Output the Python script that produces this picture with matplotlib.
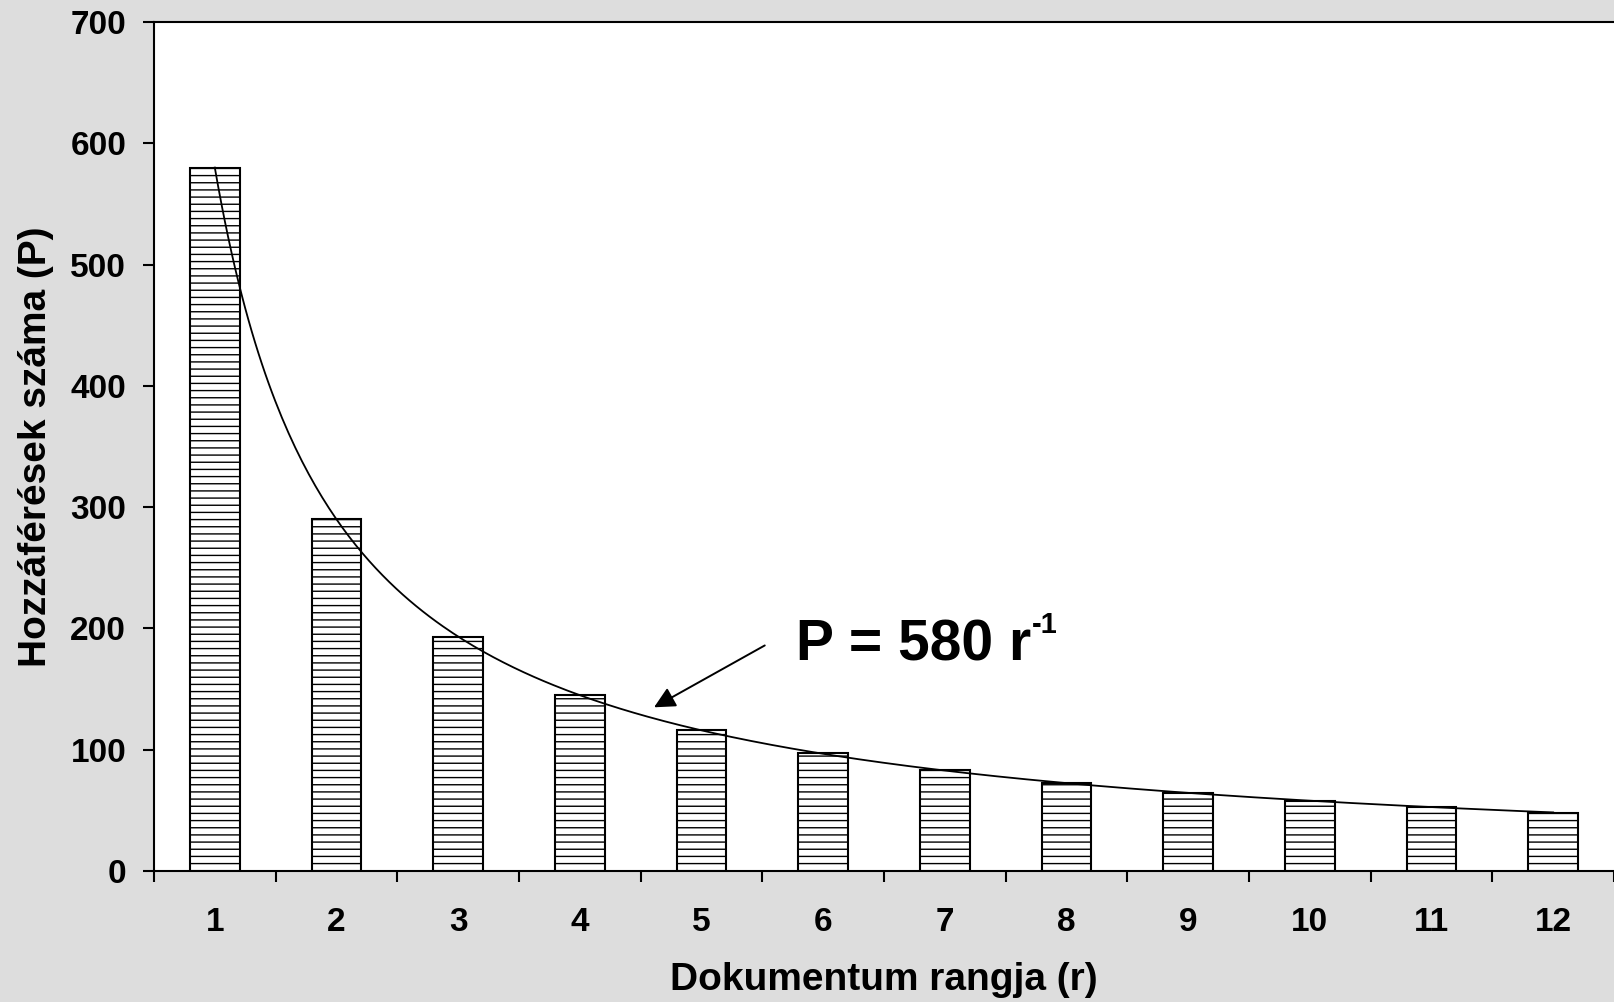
import matplotlib.pyplot as plt
import numpy as np

# rank vs number of accesses, with the 580/r fit
ranks = [1, 2, 3, 4, 5, 6, 7, 8, 9, 10, 11, 12]
hits = [580, 290, 193, 145, 116, 97, 83, 73, 64, 58, 53, 48]
coef = 580

DPI = 86          # chosen so the '--' hatch spacing matches the original
k = 100 / DPI     # sizes below were tuned at 100 dpi

plt.rcParams['font.family'] = ['Liberation Sans', 'DejaVu Sans']
plt.rcParams['hatch.linewidth'] = 1.0 * k

fig = plt.figure(figsize=(1614 / DPI, 1002 / DPI), dpi=DPI, facecolor='#dddddd')
ax = fig.add_axes([0.0954, 0.1307, 0.9046, 0.8473])
ax.set_facecolor('white')

ax.bar(ranks, hits, width=0.41, color='white', edgecolor='black',
       linewidth=1.5 * k, hatch='--', zorder=2)

r = np.linspace(1, 12, 400)
ax.plot(r, coef / r, color='black', lw=1.3 * k, zorder=3)

ax.annotate('', xy=(4.61, 135), xytext=(5.52, 186),
            arrowprops=dict(arrowstyle='-|>', mutation_scale=32 * k, lw=1.4 * k,
                            color='black', shrinkA=0, shrinkB=0))
t = ax.text(5.78, 174, 'P = 580 r', fontsize=41 * k, fontweight='bold',
            va='baseline', ha='left')
ax.annotate('-1', xy=(1.0, 1.0), xycoords=t, xytext=(0.5 * k, 5 * k),
            textcoords='offset points', fontsize=21 * k, fontweight='bold',
            va='top', ha='left')

ax.set_xlim(0.5, 12.46)
ax.set_ylim(0, 700)
ax.set_yticks(range(0, 701, 100))
ax.set_xticks(ranks)
ax.set_xticks(np.arange(0.5, 12.6, 1), minor=True)

ax.tick_params(axis='y', length=8 * k, width=1.5 * k, pad=12 * k, labelsize=24 * k)
ax.tick_params(axis='x', which='major', length=0, pad=26 * k, labelsize=24 * k)
ax.tick_params(axis='x', which='minor', length=8 * k, width=1.5 * k)
for lab in ax.get_xticklabels() + ax.get_yticklabels():
    lab.set_fontweight('bold')

ax.spines['right'].set_visible(False)
for s in ['left', 'bottom', 'top']:
    ax.spines[s].set_linewidth(1.5 * k)

ax.set_ylabel('Hozzáférések száma (P)', fontsize=28 * k, fontweight='bold', labelpad=12 * k)
ax.set_xlabel('Dokumentum rangja (r)', fontsize=28 * k, fontweight='bold', labelpad=17.5 * k)

fig.savefig('out.png', dpi=DPI, facecolor=fig.get_facecolor())
